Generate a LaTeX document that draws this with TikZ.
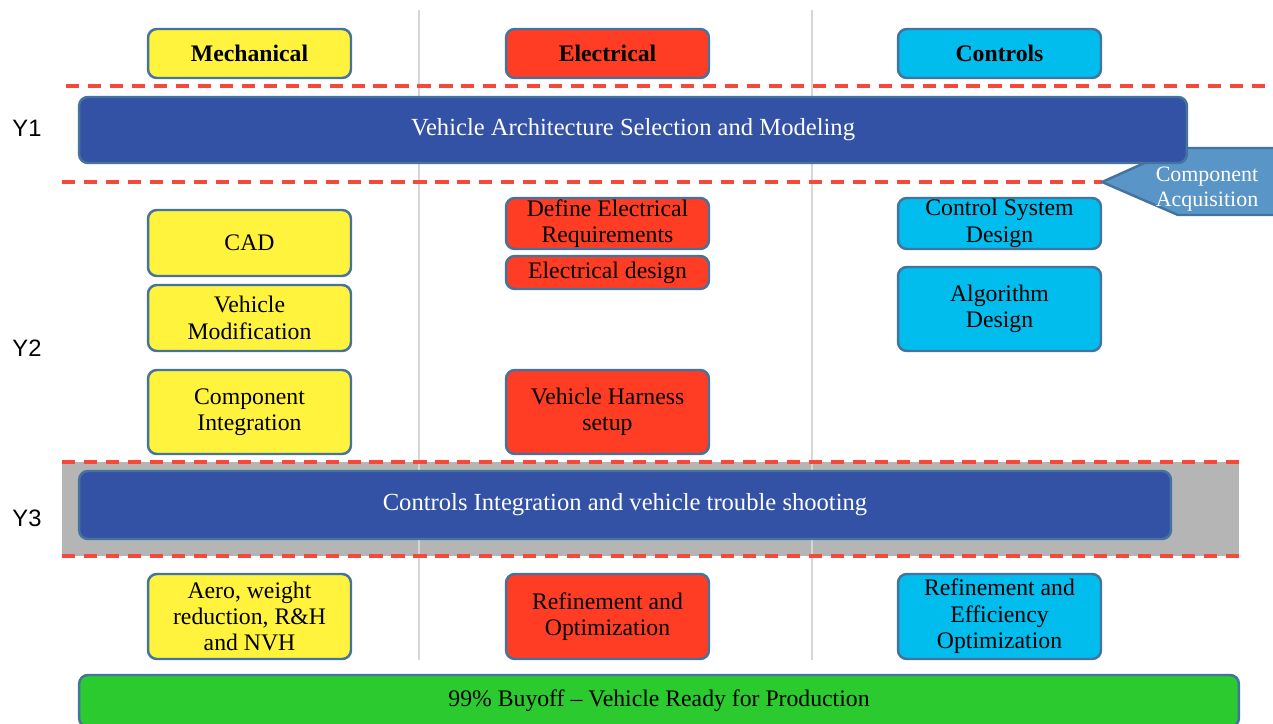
\documentclass[tikz,border=0pt]{standalone}
\usepackage{fontspec}
\setmainfont{Liberation Serif}
\newfontfamily\ysans{Liberation Sans}
\definecolor{ybox}{HTML}{FFF33D}
\definecolor{rbox}{HTML}{FF3D24}
\definecolor{cbox}{HTML}{00BDEE}
\definecolor{dblue}{HTML}{3352A6}
\definecolor{bordc}{HTML}{44739E}
\definecolor{gbox}{HTML}{2BCB2F}
\definecolor{bandgray}{HTML}{B5B5B5}
\definecolor{acqfill}{HTML}{5A95C8}
\definecolor{dashred}{HTML}{F8483A}
\definecolor{vlinec}{HTML}{D6D6D6}
\tikzset{
  box/.style={rectangle, rounded corners=5pt, draw=bordc, line width=1.4pt, align=center,
    inner sep=2pt, font=\fontsize{13.5}{15}\selectfont, text=black},
  hdr/.style={box, font=\fontsize{13.5}{15}\selectfont\bfseries, minimum width=4.06cm, minimum height=0.98cm},
  colbox/.style={box, minimum width=4.06cm},
  bar/.style={box, fill=dblue, text=white, font=\fontsize{14}{16}\selectfont},
  reddash/.style={draw=dashred, line width=1.8pt, dash pattern=on 7.5pt off 5pt},
  vline/.style={draw=vlinec, line width=1.1pt},
  ylab/.style={font=\ysans\fontsize{13.5}{15}\selectfont, text=black, inner sep=0pt}
}
\begin{document}
\begin{tikzpicture}[x=0.02cm,y=-0.02cm]
\clip (0,0) rectangle (1273,723);
\fill[white] (0,0) rectangle (1273,723);
% Y3 band
\fill[bandgray] (62,462) rectangle (1239,556);
% column separators
\draw[vline] (419,10) -- (419,660);
\draw[vline] (812,10) -- (812,660);
% year separators
\draw[reddash] (66,86) -- (1270,86);
\draw[reddash] (62,182) -- (1102,182);
\draw[reddash] (62,462) -- (1239,462);
\draw[reddash] (62,556) -- (1239,556);
% component acquisition arrow (behind the bar)
\draw[fill=acqfill, draw=bordc, line width=1.4pt, line join=round]
  (1102,182) -- (1178,148) -- (1276,148) -- (1276,215) -- (1178,215) -- cycle;
% year labels
\node[ylab] (y1) at (27,128) {Y1};
\node[ylab] (y2) at (27,348) {Y2};
\node[ylab] (y3) at (27,518) {Y3};
% headers
\node[hdr, fill=ybox] (mech) at (249.5,53.5) {Mechanical};
\node[hdr, fill=rbox] (elec) at (607.5,53.5) {Electrical};
\node[hdr, fill=cbox] (ctrl) at (999.5,53.5) {Controls};
% bars
\node[bar, minimum width=22.16cm, minimum height=1.32cm] (arch) at (633,130) {Vehicle Architecture Selection and Modeling};
\node[bar, minimum width=21.84cm, minimum height=1.36cm] (integ) at (625,505) {Controls Integration and vehicle trouble shooting};
\node[box, fill=gbox, minimum width=23.2cm, minimum height=1.04cm] (buyoff) at (659,701) {99\% Buyoff -- Vehicle Ready for Production};
% component acquisition text
\node[align=center, text=white, inner sep=0pt, font=\fontsize{12.5}{14}\selectfont] (acq) at (1207,189) {Component\\Acquisition};
% mechanical column
\node[colbox, fill=ybox, minimum height=1.32cm] (cad) at (249.5,243) {CAD};
\node[colbox, fill=ybox, minimum height=1.32cm] (vmod) at (249.5,318) {Vehicle\\Modification};
\node[colbox, fill=ybox, minimum height=1.68cm] (cint) at (249.5,412) {Component\\Integration};
\node[colbox, fill=ybox, minimum height=1.7cm] (aero) at (249.5,616.5) {Aero, weight\\reduction, R\&H\\and NVH};
% electrical column
\node[colbox, fill=rbox, minimum height=1.02cm, inner sep=0pt] (defreq) at (607.5,223.5) {Define Electrical\\Requirements};
\node[colbox, fill=rbox, minimum height=0.66cm, inner sep=0pt] (eldes) at (607.5,272.5) {Electrical design};
\node[colbox, fill=rbox, minimum height=1.68cm] (harness) at (607.5,412) {Vehicle Harness\\setup};
\node[colbox, fill=rbox, minimum height=1.7cm] (eref) at (607.5,616.5) {Refinement and\\Optimization};
% controls column
\node[colbox, fill=cbox, minimum height=1.02cm, inner sep=0pt] (csd) at (999.5,223.5) {Control System\\Design};
\node[colbox, fill=cbox, minimum height=1.68cm] (algo) at (999.5,309) {Algorithm\\Design};
\node[colbox, fill=cbox, minimum height=1.7cm] (effopt) at (999.5,616.5) {Refinement and\\Efficiency\\Optimization};
\end{tikzpicture}
\end{document}
